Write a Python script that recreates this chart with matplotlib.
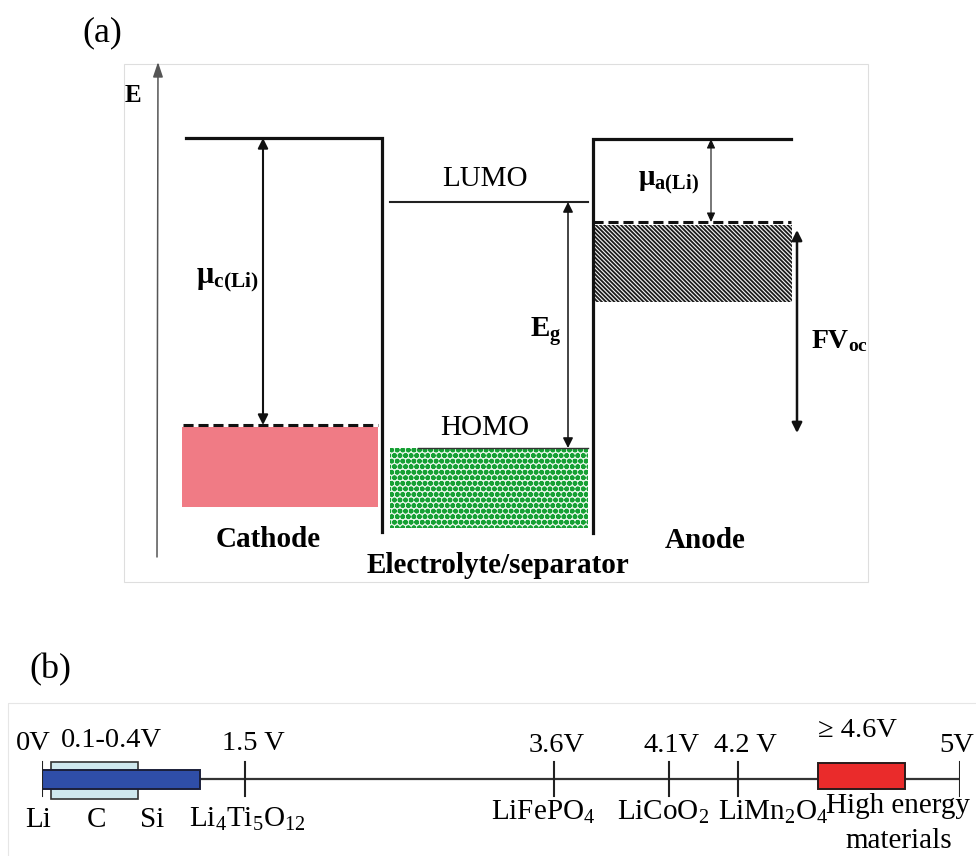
import numpy as np
import matplotlib
matplotlib.use("Agg")
import matplotlib.pyplot as plt
from matplotlib.patches import Rectangle

plt.rcParams['font.family'] = ['Liberation Serif', 'DejaVu Serif']
plt.rcParams['mathtext.fontset'] = 'custom'
plt.rcParams['mathtext.rm'] = 'Liberation Serif'
plt.rcParams['mathtext.it'] = 'Liberation Serif:italic'
plt.rcParams['mathtext.bf'] = 'Liberation Serif:bold'

# ---- panel (a): energy level diagram, levels in picture rows (y grows down)
cathode_x = (186, 382)          # top level span, right end is the wall
cathode_top = 138
cathode_wall_bottom = 532
cathode_fermi = 425              # dashed line = mu_c(Li)
cathode_band = (182, 378, 427, 507)   # x0, x1, top, bottom

elyte_x = (390, 588)
lumo = 202
homo = 448
elyte_band_bottom = 528

anode_x = (593, 791)
anode_top = 139
anode_wall_bottom = 533
anode_fermi = 222
anode_band = (595, 792, 225, 302)

mu_c_x = 263
eg_x = 568
mu_a_x = 711
voc_x = 797
voc_span = (230, 433)

# ---- panel (b): voltage scale vs Li/Li+
volt_ticks = [0, 1.5, 3.6, 4.1, 4.2, 5]
volt_labels = ['0V', '1.5 V', '3.6V', '4.1V', '4.2 V', '5V']
volt_materials = ['Li', r'Li$_\mathrm{4}$Ti$_\mathrm{5}$O$_\mathrm{12}$', r'LiFePO$_\mathrm{4}$',
                  r'LiCoO$_\mathrm{2}$', r'LiMn$_\mathrm{2}$O$_\mathrm{4}$', '']
anode_bar = (0.0, 1.17)
alloy_bar = (0.07, 0.71)
alloy_label = '0.1-0.4V'
alloy_materials = ['C', 'Si']
high_bar = (4.49, 4.80)
high_label = '\u2265 4.6V'
high_material = ['High energy', 'materials']

# the printed scale is not linear; picture columns of each tick
scale_cols = [42, 245, 554, 669, 738, 960]

fig = plt.figure(figsize=(9.76, 8.56), dpi=100)
ax = fig.add_axes([0, 0, 1, 1])
ax.set_xlim(0, 976)
ax.set_ylim(856, 0)
ax.axis('off')

# frames
ax.add_patch(Rectangle((124, 64), 744, 518, fill=False, ec='#dedede', lw=0.8))
ax.plot([8, 8, 976], [856, 703, 703], color='#e6e6e6', lw=0.8)

ax.text(102, 33, '(a)', fontsize=26, ha='center', va='center')
ax.text(50, 670, '(b)', fontsize=26, ha='center', va='center')

# energy axis
ax.annotate('', xy=(158, 62), xytext=(157, 557),
            arrowprops=dict(arrowstyle='-|>,head_length=0.9,head_width=0.3', color='#555555',
                            lw=1.1, shrinkA=0, shrinkB=0))
ax.text(133, 102, 'E', fontsize=18, fontweight='bold', ha='center', va='baseline')

# cathode
x0, x1, y0, y1 = cathode_band
ax.add_patch(Rectangle((x0, y0), x1 - x0, y1 - y0, fc='#f07b85', ec='none'))
ax.plot([cathode_x[0], cathode_x[1], cathode_x[1]], [cathode_top, cathode_top, cathode_wall_bottom],
        color='#111111', lw=2.3, solid_joinstyle='miter')
ax.plot([183, 378], [cathode_fermi, cathode_fermi], color='#111111', lw=2.2, dashes=(3.3, 1.6))

# electrolyte
green = Rectangle((elyte_x[0], homo), elyte_x[1] - elyte_x[0], elyte_band_bottom - homo,
                  fc='#e2f4e5', ec='#16a034', lw=0, hatch='ooo')
if hasattr(green, 'set_hatch_linewidth'):
    green.set_hatch_linewidth(1.7)
ax.add_patch(green)
ax.plot(elyte_x, [lumo, lumo], color='#222222', lw=1.5)
ax.plot([418, elyte_x[1]], [homo, homo], color='#333333', lw=1.0)

# anode
x0, x1, y0, y1 = anode_band
hatched = Rectangle((x0, y0), x1 - x0, y1 - y0, fc='#f4f4f4', ec='#1a1a1a', lw=0,
                    hatch='\\\\\\\\\\\\\\\\')
if hasattr(hatched, 'set_hatch_linewidth'):
    hatched.set_hatch_linewidth(1.3)
ax.add_patch(hatched)
ax.plot([anode_x[0], anode_x[0], anode_x[1]], [anode_wall_bottom, anode_top, anode_top],
        color='#111111', lw=2.3, solid_joinstyle='miter')
ax.plot([anode_x[0], anode_x[1]], [anode_fermi, anode_fermi], color='#111111', lw=2.2,
        dashes=(3.3, 1.6))


def double_arrow(x, ya, yb, lw, hl=0.6, hw=0.3):
    ax.annotate('', xy=(x, ya), xytext=(x, yb),
                arrowprops=dict(arrowstyle=f'<|-|>,head_length={hl},head_width={hw}',
                                color='#111111', lw=lw, shrinkA=0, shrinkB=0, mutation_scale=10))


double_arrow(mu_c_x, cathode_top, cathode_fermi, 1.5)
double_arrow(eg_x, lumo, homo, 1.1)
double_arrow(mu_a_x, anode_top, anode_fermi, 0.8, 0.55, 0.25)
double_arrow(voc_x, voc_span[0], voc_span[1], 1.8)

ax.text(196, 283, r'$\mathbf{\mu}_{\mathbf{c(Li)}}$', fontsize=22, ha='left', va='baseline')
ax.text(638, 185, r'$\mathbf{\mu}_{\mathbf{a(Li)}}$', fontsize=21, ha='left', va='baseline')
ax.text(530, 337, r'$\mathbf{E}_{\mathbf{g}}$', fontsize=21, ha='left', va='baseline')
ax.text(811, 348, r'$\mathbf{FV}_{\mathbf{oc}}$', fontsize=20, ha='left', va='baseline')
ax.text(485, 186, 'LUMO', fontsize=21, ha='center', va='baseline')
ax.text(485, 435, 'HOMO', fontsize=21, ha='center', va='baseline')
ax.text(268, 547, 'Cathode', fontsize=21, fontweight='bold', ha='center', va='baseline')
ax.text(705, 548, 'Anode', fontsize=21, fontweight='bold', ha='center', va='baseline')
ax.text(498, 573, 'Electrolyte/separator', fontsize=21, fontweight='bold', ha='center',
        va='baseline')

# ---- panel (b) on its own axes, x in volts through a piecewise scale
axb = fig.add_axes([scale_cols[0] / 976, 0, (scale_cols[-1] - scale_cols[0]) / 976, 1])
axb.patch.set_visible(False)


def fwd(v):
    return np.interp(v, volt_ticks, scale_cols)


def inv(c):
    return np.interp(c, scale_cols, volt_ticks)


axb.set_xscale('function', functions=(fwd, inv))
axb.set_xlim(volt_ticks[0], volt_ticks[-1])
axb.set_ylim(856, 0)
axb.axis('off')

line_y = 779
axb.plot([volt_ticks[0], volt_ticks[-1]], [line_y, line_y], color='#333333', lw=1.6, zorder=1)
axb.add_patch(Rectangle((alloy_bar[0], 762), alloy_bar[1] - alloy_bar[0], 37,
                        fc='#cfe8ee', ec='#333333', lw=1.2, zorder=2))
axb.add_patch(Rectangle((anode_bar[0], 770), anode_bar[1] - anode_bar[0], 19,
                        fc='#2f4ea8', ec='#1b1f3a', lw=1.4, zorder=3))
axb.add_patch(Rectangle((high_bar[0], 763), high_bar[1] - high_bar[0], 26,
                        fc='#ea2b2b', ec='#2a1a1a', lw=1.4, zorder=3))
for v in volt_ticks:
    axb.plot([v, v], [762, 796], color='#222222', lw=1.5, zorder=4)

top_dx = [-9, 8, 3, 3, 7, -3]
top_y = [750, 750, 752, 752, 752, 752]
bot_dx = [-4, 2, -11, -6, 35, 0]
bot_y = [827, 827, 820, 820, 820, 820]
for v, lab, mat, dxt, yt, dxb, yb in zip(volt_ticks, volt_labels, volt_materials,
                                          top_dx, top_y, bot_dx, bot_y):
    axb.annotate(lab, (v, yt), xytext=(dxt, 0), textcoords='offset pixels',
                 fontsize=20.5, ha='center', va='baseline')
    if mat:
        axb.annotate(mat, (v, yb), xytext=(dxb, 0), textcoords='offset pixels',
                     fontsize=21, ha='center', va='baseline')

axb.annotate(alloy_label, (np.mean(alloy_bar), 747), xytext=(17, 0), textcoords='offset pixels',
             fontsize=20.5, ha='center', va='baseline')
axb.annotate(alloy_materials[0], (np.mean(alloy_bar), 827), xytext=(2, 0),
             textcoords='offset pixels', fontsize=21, ha='center', va='baseline')
axb.annotate(alloy_materials[1], (alloy_bar[1], 827), xytext=(14, 0),
             textcoords='offset pixels', fontsize=21, ha='center', va='baseline')
axb.annotate(high_label, (np.mean(high_bar), 737), xytext=(-4, 0), textcoords='offset pixels',
             fontsize=20.5, ha='center', va='baseline')
axb.annotate(high_material[0], (np.mean(high_bar), 813), xytext=(37, 0),
             textcoords='offset pixels', fontsize=21, ha='center', va='baseline')
axb.annotate(high_material[1], (np.mean(high_bar), 848), xytext=(37, 0),
             textcoords='offset pixels', fontsize=21, ha='center', va='baseline')

fig.savefig('out.png', dpi=100)
